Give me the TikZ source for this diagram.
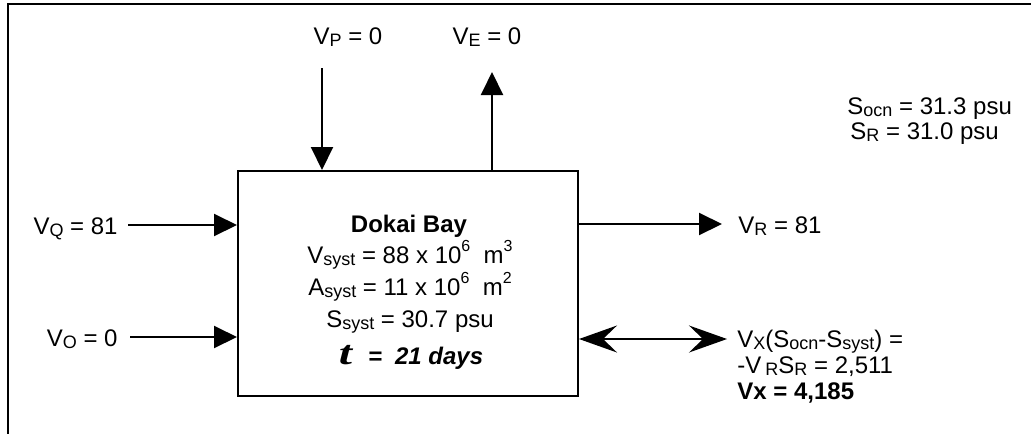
\documentclass[tikz,border=0pt]{standalone}
\usepackage{fontspec}
\setmainfont{Liberation Sans}
\newfontfamily\timesfont{Liberation Serif}
\usetikzlibrary{arrows.meta}
\newcommand\sbs[1]{\raisebox{-0.1em}{\fontsize{9}{9}\selectfont #1}}
\newcommand\sps[1]{\raisebox{5.8pt}{\fontsize{8}{8}\selectfont #1}}
\begin{document}
\begin{tikzpicture}[x=0.5pt,y=-0.5pt,
  every node/.style={font=\fontsize{12}{14}\selectfont, inner sep=0pt},
  bay/.style={draw, line width=1pt, minimum width=170pt, minimum height=112.5pt},
  flow/.style={line width=1pt, -{Triangle[length=11.5pt,width=11pt]}},
  exch/.style={line width=1pt, {Stealth[length=19pt,width=13.5pt,inset=7pt]}-{Stealth[length=19pt,width=13.5pt,inset=7pt]}},
  frame/.style={line width=1.2pt}]
\useasboundingbox (0,0) rectangle (1031,434);
% frame
\coordinate (fa) at (1031,4);
\coordinate (fb) at (8,4);
\coordinate (fc) at (8,434);
\draw[frame] (fa) -- (fb) -- (fc);
% box
\node[bay] (bay) at (408,283.5) {};
\node[anchor=base, font=\fontsize{12}{14}\selectfont\bfseries] (t1) at (409,232) {Dokai Bay};
\node[anchor=base] (t2) at (410,263) {V\sbs{syst} = 88 x 10\sps{6}\ \ m\sps{3}};
\node[anchor=base] (t3) at (410,295) {A\sbs{syst} = 11 x 10\sps{6}\ \ m\sps{2}};
\node[anchor=base] (t4) at (410,327) {S\sbs{syst} = 30.7 psu};
\node[anchor=base] (t5) at (411,364) {\scalebox{1.4}[1]{\timesfont\bfseries\itshape\fontsize{17}{17}\selectfont t}\hspace{8pt}\textbf{\textit{=\hspace{6.5pt}21 days}}};
% top labels
\node[anchor=base] (lp) at (348,44) {V\sbs{P} = 0};
\node[anchor=base] (le) at (487,44) {V\sbs{E} = 0};
\coordinate (p0) at (322,68);
\coordinate (e1) at (492,72);
\draw[flow] (p0) -- (p0 |- bay.north);
\draw[flow] (e1 |- bay.north) -- (e1);
% salinities
\node[anchor=base west] (so) at (847,114) {S\sbs{ocn} = 31.3 psu};
\node[anchor=base west] (sr) at (850,139) {S\sbs{R} = 31.0 psu};
% left inflows
\node[anchor=base east] (lq) at (118,234) {V\sbs{Q} = 81};
\node[anchor=base east] (lo) at (118,346) {V\sbs{O} = 0};
\coordinate (q0) at (128,225);
\coordinate (o0) at (130,337);
\draw[flow] (q0) -- (q0 -| bay.west);
\draw[flow] (o0) -- (o0 -| bay.west);
% outflow
\node[anchor=base west] (lr) at (738,233) {V\sbs{R} = 81};
\coordinate (r1) at (722,224);
\draw[flow] (r1 -| bay.east) -- (r1);
% exchange
\coordinate (x1) at (727,339);
\draw[exch] (x1 -| bay.east) -- (x1);
\node[anchor=base west] (lx1) at (737,347) {V\sbs{X}(S\sbs{ocn}-S\sbs{syst}) =};
\node[anchor=base west] (lx2) at (737,373) {-V\,\sbs{R}S\sbs{R} = 2,511};
\node[anchor=base west, font=\fontsize{12}{14}\selectfont\bfseries] (lx3) at (737,399) {Vx = 4,185};
\end{tikzpicture}
\end{document}
